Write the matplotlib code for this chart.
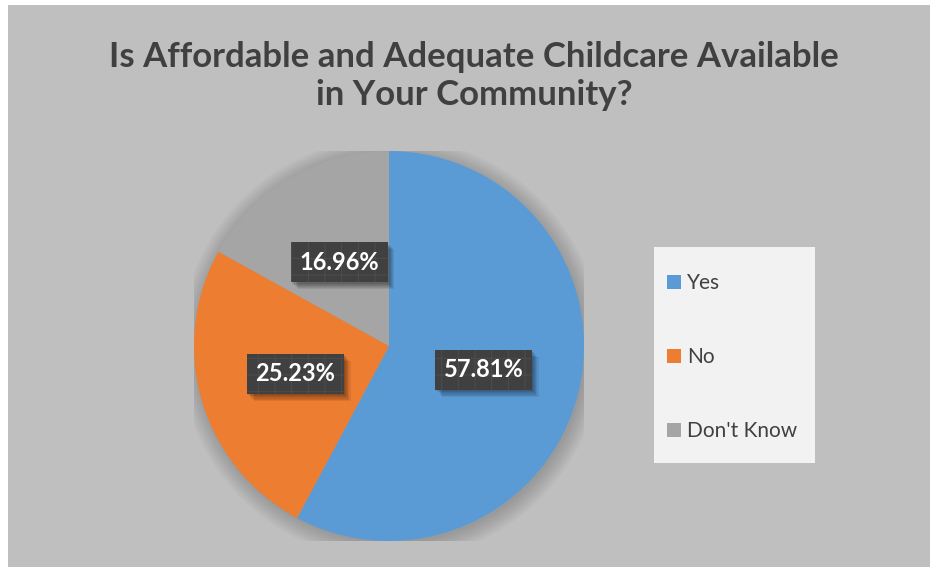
import matplotlib
matplotlib.use("Agg")
import matplotlib.pyplot as plt
from matplotlib.patches import Rectangle, Circle

# survey answers
answers = ["Yes", "No", "Don't Know"]
shares = [57.81, 25.23, 16.96]
colors = ["#5b9bd5", "#ed7d31", "#a5a5a5"]

title = "Is Affordable and Adequate Childcare Available\nin Your Community?"

plt.rcParams['font.family'] = ['Lato', 'DejaVu Sans']
plt.rcParams['hatch.linewidth'] = 0.6

W, H = 930, 567
fig = plt.figure(figsize=(W / 100, H / 100), dpi=100, facecolor="white")

# chart area background
fig.patches.append(Rectangle((8 / W, 0), 1 - 8 / W, 1 - 5 / H, transform=fig.transFigure,
                             facecolor="#bfbfbf", edgecolor="none", zorder=-10))

fig.text(474 / W, 1 - 76 / H, title, ha="center", va="center", fontsize=25,
         fontweight="bold", color="#404040", linespacing=1.2)

# pie axes: centre (389, 346) px, radius 195 px
cx, cy, r = 389, 346, 195
ax = fig.add_axes([(cx - r) / W, (H - cy - r) / H, 2 * r / W, 2 * r / H])

# soft shadow around the pie
for i in range(8):
    ax.add_patch(Circle((0.01, -0.015), 1.0 + 0.012 * i, facecolor="#000000",
                        edgecolor="none", alpha=0.022, zorder=0))

wedges, _, autotexts = ax.pie(shares, colors=colors, startangle=90, counterclock=False,
                              radius=1.0, autopct="%.2f%%", pctdistance=0.5,
                              wedgeprops=dict(linewidth=0, zorder=2),
                              textprops=dict(color="white", fontsize=17, fontweight="bold"))
ax.set_xlim(-1, 1)
ax.set_ylim(-1, 1)
ax.set_aspect("equal")
ax.axis("off")

for t in autotexts:
    t.set_zorder(6)
    t.set_bbox(dict(boxstyle="square,pad=0.36", facecolor="#404040",
                    edgecolor="#4f4f4f", linewidth=0, hatch="+"))

# soft drop shadow behind each label box, sized from the drawn box
fig.canvas.draw()
for t in autotexts:
    bb = t.get_bbox_patch().get_window_extent()
    for k in range(1, 7):
        fig.patches.append(Rectangle((bb.x0 + 1.1 * k, bb.y0 - 1.1 * k - 0.5), bb.width, bb.height,
                                     transform=None, facecolor="black", alpha=0.08,
                                     edgecolor="none", zorder=3))
for t in autotexts:
    t.remove()
    fig.texts.append(t)
    t.set_transform(ax.transData)
    t.set_figure(fig)

# legend panel
fig.patches.append(Rectangle((654 / W, 1 - 463 / H), 161 / W, 216 / H,
                             transform=fig.transFigure, facecolor="#f2f2f2",
                             edgecolor="none", zorder=1))
leg = fig.legend(wedges, answers, loc="upper left",
                 bbox_to_anchor=(667 / W, 1 - 273 / H), frameon=False,
                 fontsize=15, labelspacing=2.6, handlelength=0.65, handleheight=0.65,
                 handletextpad=0.3, borderpad=0, borderaxespad=0)
for txt in leg.get_texts():
    txt.set_color("#404040")

fig.savefig("out.png", dpi=100, facecolor=fig.get_facecolor())
